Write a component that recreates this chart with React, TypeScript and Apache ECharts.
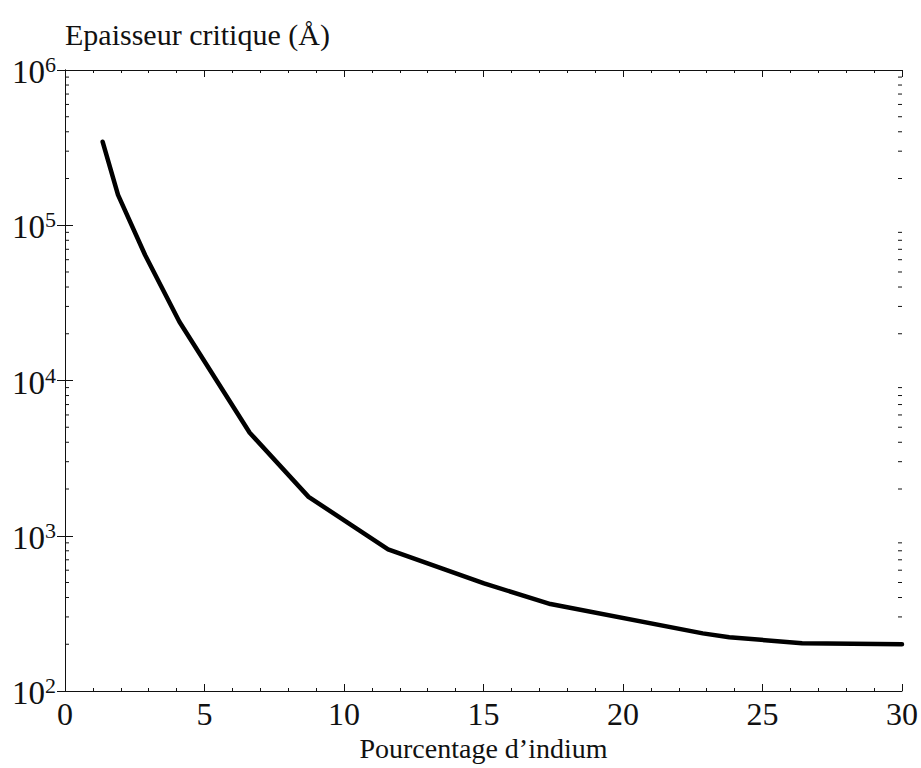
import React, { useEffect, useRef } from "react";
import * as echarts from "echarts";

// Indium fraction (%) and critical thickness (Å)
const indiumPercent = [1.35, 1.9, 2.87, 4.1, 6.62, 8.73, 11.58, 15.02, 17.4, 22.86, 23.81, 26.42, 30];
const criticalThickness = [345000, 157000, 64300, 23900, 4610, 1780, 818, 493, 363, 235, 222, 203, 200];

const xTicks = [0, 5, 10, 15, 20, 25, 30];
const yDecades = [2, 3, 4, 5, 6];
const minorSteps = [2, 3, 4, 5, 6, 7, 8, 9];

const titleText = "Epaisseur critique (Å)";
const xAxisTitle = "Pourcentage d\u2019indium";

const FONT = "'Liberation Serif', 'DejaVu Serif', serif";
const INK = "#111";

export default function App() {
  const ref = useRef<HTMLDivElement>(null);

  useEffect(() => {
    if (!ref.current) return;
    const chart = echarts.init(ref.current, undefined, { renderer: "svg" });

    const linePoints = indiumPercent.map((x, i) => [x, criticalThickness[i]]);
    const minorValues: number[][] = [];
    yDecades.slice(0, -1).forEach((d) => {
      minorSteps.forEach((k) => minorValues.push([xTicks[0], k * Math.pow(10, d)]));
    });

    const xMin = xTicks[0];
    const xMax = xTicks[xTicks.length - 1];
    const yMin = Math.pow(10, yDecades[0]);
    const yMax = Math.pow(10, yDecades[yDecades.length - 1]);

    const baseX = {
      type: "value" as const,
      min: xMin,
      max: xMax,
      interval: 5,
      splitLine: { show: false },
      axisLine: { show: true, lineStyle: { color: INK, width: 1 } },
      axisTick: { show: true, inside: true, length: 7, lineStyle: { color: INK } },
      minorTick: { show: true, splitNumber: 5, length: 3, lineStyle: { color: INK } },
    };
    const baseY = {
      type: "log" as const,
      logBase: 10,
      min: yMin,
      max: yMax,
      splitLine: { show: false },
      axisLine: { show: true, lineStyle: { color: INK, width: 1 } },
      axisTick: { show: true, inside: true, length: 8, lineStyle: { color: INK } },
      minorTick: { show: false },
    };

    chart.setOption({
      animation: false,
      backgroundColor: "#fff",
      title: {
        text: titleText,
        left: 60,
        top: 14,
        textStyle: { fontFamily: FONT, fontSize: 30, fontWeight: "normal", color: INK },
      },
      grid: { left: 65, right: 14, top: 70, bottom: 77 },
      xAxis: [
        {
          ...baseX,
          position: "bottom",
          name: xAxisTitle,
          nameLocation: "middle",
          nameGap: 43,
          nameTextStyle: { fontFamily: FONT, fontSize: 28, color: INK },
          axisLabel: { show: true, margin: 7, fontFamily: FONT, fontSize: 32, color: INK },
        },
        { ...baseX, position: "top", axisLabel: { show: false } },
      ],
      yAxis: [
        {
          ...baseY,
          position: "left",
          axisLabel: {
            show: true,
            margin: 9,
            formatter: (v: number) => `{b|10}{s|${Math.round(Math.log10(v))}}`,
            rich: {
              b: { fontFamily: FONT, fontSize: 33, lineHeight: 33, padding: [4, 0, 0, 0], color: INK },
              s: { fontFamily: FONT, fontSize: 22, lineHeight: 22, verticalAlign: "top", color: INK },
            },
          },
        },
        { ...baseY, position: "right", axisLabel: { show: false } },
      ],
      series: [
        {
          type: "line",
          data: linePoints,
          xAxisIndex: 0,
          yAxisIndex: 0,
          showSymbol: false,
          symbol: "none",
          lineStyle: { color: "#000", width: 4.5, join: "round", cap: "round" },
          z: 3,
        },
        {
          type: "custom",
          xAxisIndex: 0,
          yAxisIndex: 0,
          silent: true,
          data: minorValues,
          encode: { x: 0, y: 1 },
          renderItem: (params: any, api: any) => {
            const p = api.coord([api.value(0), api.value(1)]);
            const cs = params.coordSys;
            const len = 4;
            return {
              type: "group",
              children: [
                {
                  type: "line",
                  shape: { x1: cs.x, y1: p[1], x2: cs.x + len, y2: p[1] },
                  style: { stroke: INK, lineWidth: 1 },
                },
                {
                  type: "line",
                  shape: { x1: cs.x + cs.width, y1: p[1], x2: cs.x + cs.width - len, y2: p[1] },
                  style: { stroke: INK, lineWidth: 1 },
                },
              ],
            };
          },
          z: 2,
        },
      ],
    });

    return () => chart.dispose();
  }, []);

  return (
    <div
      ref={ref}
      style={{ position: "fixed", left: 0, top: 0, width: 921, height: 768, background: "#fff" }}
    />
  );
}
